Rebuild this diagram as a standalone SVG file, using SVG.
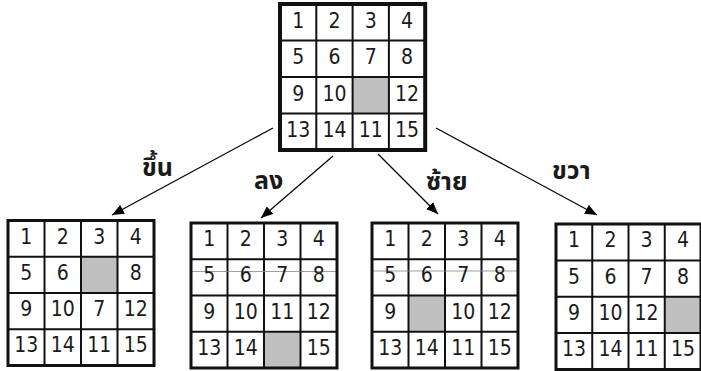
<svg xmlns="http://www.w3.org/2000/svg" width="701" height="371" viewBox="0 0 701 371">
<defs>
<style>
.bg{fill:#ffffff}
.gap{fill:#c0c0c0;stroke:none}
.inner{stroke:#111;stroke-width:2;fill:none}
.outer{stroke:#111;stroke-width:3;fill:none}
.outerTop{stroke:#111;stroke-width:4;fill:none}
.ghost{stroke:#888;stroke-width:0.8;fill:none}
.num{font-family:"DejaVu Sans Condensed","DejaVu Sans","Noto Sans",sans-serif;font-size:21px;fill:#1a1a1a;text-anchor:middle}
.edge{stroke:#000;stroke-width:1.2;fill:none}
.lbl{font-family:Tahoma,"Noto Sans Thai","Noto Sans","DejaVu Sans",sans-serif;font-size:25px;font-weight:bold;fill:#1a1a1a}
</style>
<marker id="arr" viewBox="0 0 12 10" refX="12" refY="5" markerWidth="12" markerHeight="10" markerUnits="userSpaceOnUse" orient="auto">
<path d="M0,0 L12,5 L0,10 z" fill="#000"/>
</marker>
</defs>
<rect class="bg" x="0" y="0" width="701" height="371"/>

<g id="start">
<rect class="gap" x="352.6" y="77" width="36.3" height="36.5"/>
<path class="inner" d="M316.3,4V150M352.6,4V150M388.9,4V150M280,40.5H425.2M280,77H425.2M280,113.5H425.2"/>
<rect class="outerTop" x="280" y="4" width="145.2" height="146"/>
<g class="num">
<text x="298.15" y="27.5">1</text><text x="334.45" y="27.5">2</text><text x="370.75" y="27.5">3</text><text x="407.05" y="27.5">4</text>
<text x="298.15" y="64">5</text><text x="334.45" y="64">6</text><text x="370.75" y="64">7</text><text x="407.05" y="64">8</text>
<text x="298.15" y="100.5">9</text><text x="334.45" y="100.5">10</text><text x="407.05" y="100.5">12</text>
<text x="298.15" y="137">13</text><text x="334.45" y="137">14</text><text x="370.75" y="137">11</text><text x="407.05" y="137">15</text>
</g>
</g>

<g id="up">
<rect class="gap" x="81" y="256.75" width="36.5" height="36.25"/>
<path class="inner" d="M44.5,220.5V365.5M81,220.5V365.5M117.5,220.5V365.5M8,256.75H154M8,293H154M8,329.25H154"/>
<rect class="outer" x="8" y="220.5" width="146" height="145"/>
<g class="num">
<text x="26.25" y="243.6">1</text><text x="62.75" y="243.6">2</text><text x="99.25" y="243.6">3</text><text x="135.75" y="243.6">4</text>
<text x="26.25" y="279.9">5</text><text x="62.75" y="279.9">6</text><text x="135.75" y="279.9">8</text>
<text x="26.25" y="316.1">9</text><text x="62.75" y="316.1">10</text><text x="99.25" y="316.1">7</text><text x="135.75" y="316.1">12</text>
<text x="26.25" y="352.4">13</text><text x="62.75" y="352.4">14</text><text x="99.25" y="352.4">11</text><text x="135.75" y="352.4">15</text>
</g>
</g>

<g id="down">
<rect class="gap" x="264" y="331.75" width="36.5" height="36.25"/>
<path class="inner" d="M227.5,223V368M264,223V368M300.5,223V368M191,259.25H337M191,295.5H337M191,331.75H337"/>
<path class="ghost" d="M191,271.5H337"/>
<rect class="outer" x="191" y="223" width="146" height="145"/>
<g class="num">
<text x="209.25" y="246.1">1</text><text x="245.75" y="246.1">2</text><text x="282.25" y="246.1">3</text><text x="318.75" y="246.1">4</text>
<text x="209.25" y="282.4">5</text><text x="245.75" y="282.4">6</text><text x="282.25" y="282.4">7</text><text x="318.75" y="282.4">8</text>
<text x="209.25" y="318.6">9</text><text x="245.75" y="318.6">10</text><text x="282.25" y="318.6">11</text><text x="318.75" y="318.6">12</text>
<text x="209.25" y="354.9">13</text><text x="245.75" y="354.9">14</text><text x="318.75" y="354.9">15</text>
</g>
</g>

<g id="left">
<rect class="gap" x="408.5" y="295.5" width="36.5" height="36.25"/>
<path class="inner" d="M408.5,223V368M445,223V368M481.5,223V368M372,259.25H518M372,295.5H518M372,331.75H518"/>
<path class="ghost" d="M372,271H518"/>
<rect class="outer" x="372" y="223" width="146" height="145"/>
<g class="num">
<text x="390.25" y="246.1">1</text><text x="426.75" y="246.1">2</text><text x="463.25" y="246.1">3</text><text x="499.75" y="246.1">4</text>
<text x="390.25" y="282.4">5</text><text x="426.75" y="282.4">6</text><text x="463.25" y="282.4">7</text><text x="499.75" y="282.4">8</text>
<text x="390.25" y="318.6">9</text><text x="463.25" y="318.6">10</text><text x="499.75" y="318.6">12</text>
<text x="390.25" y="354.9">13</text><text x="426.75" y="354.9">14</text><text x="463.25" y="354.9">11</text><text x="499.75" y="354.9">15</text>
</g>
</g>

<g id="right">
<rect class="gap" x="664.75" y="296.75" width="36.25" height="36.35"/>
<path class="inner" d="M592.25,224V369.5M628.5,224V369.5M664.75,224V369.5M556,260.4H701M556,296.75H701M556,333.1H701"/>
<rect class="outer" x="556" y="224" width="145" height="145.5"/>
<g class="num">
<text x="574.1" y="247.2">1</text><text x="610.4" y="247.2">2</text><text x="646.6" y="247.2">3</text><text x="682.9" y="247.2">4</text>
<text x="574.1" y="283.6">5</text><text x="610.4" y="283.6">6</text><text x="646.6" y="283.6">7</text><text x="682.9" y="283.6">8</text>
<text x="574.1" y="319.9">9</text><text x="610.4" y="319.9">10</text><text x="646.6" y="319.9">12</text>
<text x="574.1" y="356.3">13</text><text x="610.4" y="356.3">14</text><text x="646.6" y="356.3">11</text><text x="682.9" y="356.3">15</text>
</g>
</g>

<g id="connectors">
<line class="edge" x1="273" y1="128" x2="112" y2="215" marker-end="url(#arr)"/>
<line class="edge" x1="333" y1="156" x2="261" y2="218" marker-end="url(#arr)"/>
<line class="edge" x1="378" y1="154" x2="438" y2="214" marker-end="url(#arr)"/>
<line class="edge" x1="436" y1="128" x2="597" y2="215" marker-end="url(#arr)"/>
</g>

<g id="labels">
<text class="lbl" x="142" y="176">ขึ้น</text>
<text class="lbl" x="254" y="189">ลง</text>
<text class="lbl" x="426" y="190">ซ้าย</text>
<text class="lbl" x="552" y="179">ขวา</text>
</g>
</svg>
